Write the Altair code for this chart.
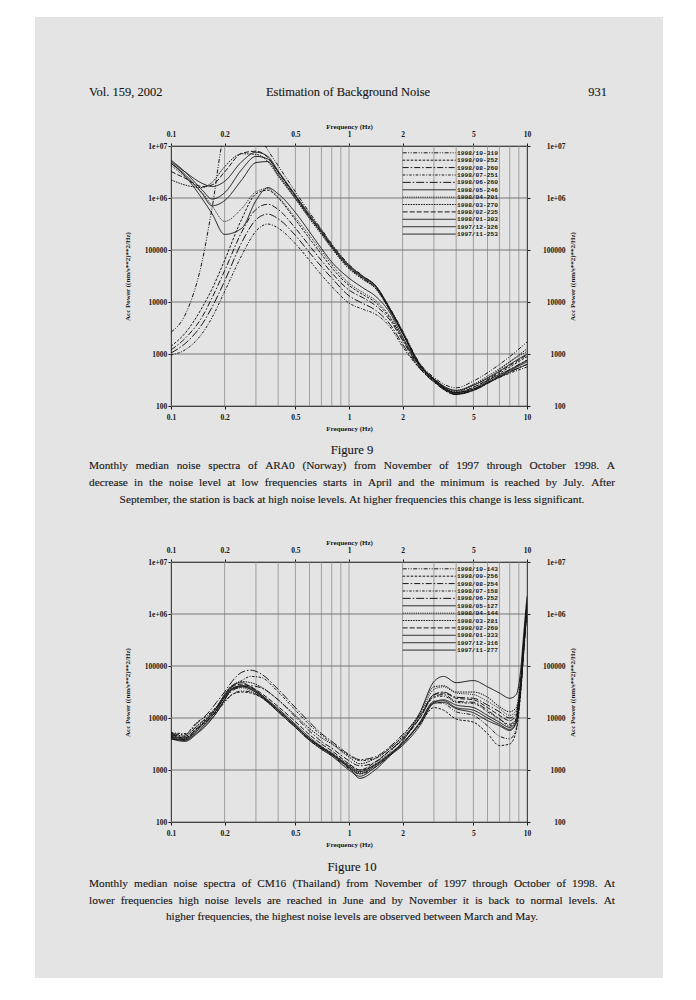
import altair as alt
import pandas as pd

# ---------------- page text ----------------
HEADER_LEFT = "Vol. 159, 2002"
HEADER_MID = "Estimation of Background Noise"
HEADER_RIGHT = "931"
FIG9_TITLE = "Figure 9"
FIG9_CAPTION = [
    "Monthly median noise spectra of ARA0 (Norway) from November of 1997 through October 1998. A",
    "decrease in the noise level at low frequencies starts in April and the minimum is reached by July. After",
    "September, the station is back at high noise levels. At higher frequencies this change is less significant.",
]
FIG10_TITLE = "Figure 10"
FIG10_CAPTION = [
    "Monthly median noise spectra of CM16 (Thailand) from November of 1997 through October of 1998. At",
    "lower frequencies high noise levels are reached in June and by November it is back to normal levels. At",
    "higher frequencies, the highest noise levels are observed between March and May.",
]
X_TITLE = "Frequency (Hz)"
Y_TITLE = "Acc Power ((nm/s**2)**2/Hz)"
X_TICKS = [0.1, 0.2, 0.5, 1, 2, 5, 10]
X_GRID = [0.1, 0.2, 0.3, 0.4, 0.5, 0.6, 0.7, 0.8, 0.9, 1, 2, 3, 4, 5, 6, 7, 8, 9, 10]
Y_TICKS = [100, 1000, 10000, 100000, 1000000, 10000000]

# ---------------- Figure 9 : ARA0 (log10 of power) ----------------
freq9 = [0.1, 0.12, 0.15, 0.17, 0.2, 0.25, 0.3, 0.35, 0.4, 0.5, 0.6, 0.7, 0.8,
         1.0, 1.2, 1.4, 1.7, 2.0, 2.5, 3.0, 4.0, 5.0, 6.5, 8.0, 10.0]
labels9 = ["1998/10-319", "1998/09-252", "1998/08-260", "1998/07-251", "1998/06-260",
           "1998/05-246", "1998/04-201", "1998/03-270", "1998/02-235", "1998/01-303",
           "1997/12-326", "1997/11-253"]
ara_oct = [3.42, 3.75, 4.8, 5.8, 7.2, 7.45, 7.3, 6.92, 6.62, 6.12, 5.72, 5.4, 5.12, 4.72, 4.5, 4.32, 3.88, 3.45, 2.82, 2.55, 2.35, 2.48, 2.72, 2.95, 3.23]
ara_sep = [3.15, 3.4, 3.9, 4.25, 4.8, 5.6, 6.08, 6.15, 6.0, 5.58, 5.22, 4.92, 4.66, 4.32, 4.14, 4.0, 3.69, 3.29, 2.75, 2.48, 2.26, 2.36, 2.56, 2.75, 2.95]
ara_aug = [3.08, 3.3, 3.72, 4.08, 4.6, 5.35, 5.78, 5.88, 5.78, 5.42, 5.08, 4.8, 4.56, 4.23, 4.08, 3.94, 3.65, 3.26, 2.73, 2.47, 2.22, 2.32, 2.52, 2.7, 2.88]
ara_jul = [2.98, 3.08, 3.4, 3.7, 4.2, 4.9, 5.36, 5.5, 5.42, 5.12, 4.8, 4.52, 4.3, 3.98, 3.86, 3.77, 3.52, 3.14, 2.72, 2.47, 2.25, 2.33, 2.5, 2.63, 2.75]
ara_jun = [3.02, 3.2, 3.58, 3.9, 4.4, 5.15, 5.58, 5.69, 5.6, 5.28, 4.95, 4.68, 4.46, 4.12, 3.97, 3.85, 3.57, 3.19, 2.72, 2.46, 2.22, 2.3, 2.5, 2.66, 2.8]
ara_may = [6.67, 6.42, 5.98, 5.7, 5.3, 5.42, 5.95, 6.2, 6.08, 5.72, 5.35, 5.03, 4.77, 4.46, 4.27, 4.12, 3.79, 3.33, 2.78, 2.52, 2.3, 2.4, 2.6, 2.8, 3.0]
ara_apr = [6.63, 6.4, 6.1, 5.85, 5.55, 5.8, 6.12, 6.18, 6.02, 5.62, 5.28, 4.98, 4.72, 4.36, 4.18, 4.04, 3.72, 3.3, 2.76, 2.5, 2.3, 2.42, 2.65, 2.85, 3.05]
ara_mar = [6.35, 6.25, 6.2, 6.3, 6.6, 6.85, 6.84, 6.7, 6.42, 5.98, 5.6, 5.3, 5.03, 4.64, 4.43, 4.27, 3.83, 3.4, 2.8, 2.52, 2.28, 2.4, 2.62, 2.85, 3.1]
ara_feb = [6.51, 6.38, 6.22, 6.25, 6.5, 6.86, 6.9, 6.78, 6.5, 6.03, 5.64, 5.34, 5.06, 4.66, 4.45, 4.28, 3.84, 3.4, 2.78, 2.5, 2.26, 2.36, 2.58, 2.78, 2.98]
ara_jan = [6.70, 6.5, 6.28, 6.22, 6.32, 6.7, 6.88, 6.8, 6.52, 6.06, 5.68, 5.38, 5.1, 4.71, 4.49, 4.33, 3.87, 3.43, 2.8, 2.5, 2.23, 2.31, 2.52, 2.68, 2.85]
ara_dec = [6.73, 6.5, 6.15, 5.98, 6.1, 6.55, 6.8, 6.75, 6.5, 6.04, 5.66, 5.36, 5.08, 4.69, 4.48, 4.32, 3.86, 3.41, 2.8, 2.52, 2.26, 2.33, 2.55, 2.7, 2.88]
ara_nov = [6.67, 6.45, 6.08, 5.85, 5.95, 6.35, 6.68, 6.7, 6.45, 6.0, 5.63, 5.33, 5.06, 4.67, 4.46, 4.3, 3.85, 3.4, 2.78, 2.5, 2.24, 2.3, 2.5, 2.65, 2.8]
curves9 = [ara_oct, ara_sep, ara_aug, ara_jul, ara_jun, ara_may,
           ara_apr, ara_mar, ara_feb, ara_jan, ara_dec, ara_nov]

# ---------------- Figure 10 : CM16 (log10 of power) ----------------
freq10 = [0.1, 0.12, 0.14, 0.16, 0.18, 0.2, 0.22, 0.25, 0.28, 0.32, 0.4, 0.5, 0.6, 0.7, 0.8,
          1.0, 1.15, 1.4, 1.7, 2.0, 2.5, 3.0, 3.4, 4.0, 5.0, 6.0, 7.0, 8.0, 8.7, 9.2, 9.6, 10.0]
labels10 = ["1998/10-143", "1998/09-256", "1998/08-254", "1998/07-158", "1998/06-252",
            "1998/05-127", "1998/04-144", "1998/03-281", "1998/02-269", "1998/01-333",
            "1997/12-316", "1997/11-277"]
cm_oct = [3.63, 3.58, 3.78, 3.95, 4.12, 4.3, 4.45, 4.52, 4.5, 4.4, 4.12, 3.82, 3.57, 3.4, 3.28, 3.03, 2.92, 3.05, 3.28, 3.5, 3.9, 4.3, 4.28, 4.12, 4.05, 3.85, 3.65, 3.6, 3.8, 4.5, 5.35, 6.1]
cm_sep = [3.66, 3.62, 3.8, 3.98, 4.15, 4.32, 4.45, 4.5, 4.48, 4.4, 4.15, 3.85, 3.6, 3.45, 3.33, 3.1, 3.0, 3.1, 3.3, 3.52, 3.88, 4.2, 4.15, 3.98, 3.92, 3.7, 3.47, 3.5, 3.75, 4.45, 5.3, 6.1]
cm_aug = [3.68, 3.65, 3.85, 4.02, 4.2, 4.38, 4.52, 4.6, 4.62, 4.58, 4.35, 4.02, 3.75, 3.55, 3.42, 3.18, 3.08, 3.15, 3.38, 3.6, 4.0, 4.42, 4.45, 4.32, 4.3, 4.15, 3.98, 3.88, 4.0, 4.6, 5.4, 6.15]
cm_jul = [3.72, 3.7, 3.92, 4.05, 4.22, 4.42, 4.6, 4.72, 4.8, 4.78, 4.5, 4.15, 3.87, 3.67, 3.52, 3.28, 3.18, 3.22, 3.42, 3.63, 4.0, 4.4, 4.42, 4.3, 4.28, 4.12, 3.98, 3.85, 3.98, 4.6, 5.4, 6.2]
cm_jun = [3.7, 3.68, 3.9, 4.08, 4.3, 4.5, 4.7, 4.88, 4.92, 4.85, 4.55, 4.2, 3.92, 3.7, 3.55, 3.3, 3.2, 3.25, 3.45, 3.68, 4.05, 4.45, 4.5, 4.4, 4.38, 4.25, 4.12, 4.0, 4.1, 4.65, 5.45, 6.2]
cm_may = [3.6, 3.55, 3.7, 3.88, 4.1, 4.35, 4.55, 4.62, 4.58, 4.45, 4.15, 3.85, 3.6, 3.43, 3.3, 3.05, 2.84, 3.0, 3.28, 3.55, 4.1, 4.7, 4.8, 4.68, 4.72, 4.6, 4.48, 4.38, 4.45, 4.9, 5.65, 6.34]
cm_apr = [3.65, 3.6, 3.82, 3.98, 4.18, 4.4, 4.55, 4.58, 4.52, 4.4, 4.12, 3.82, 3.58, 3.42, 3.3, 3.06, 2.95, 3.12, 3.35, 3.6, 4.05, 4.55, 4.6, 4.48, 4.45, 4.32, 4.18, 4.05, 4.15, 4.7, 5.45, 6.2]
cm_mar = [3.7, 3.65, 3.85, 4.0, 4.2, 4.45, 4.62, 4.7, 4.68, 4.6, 4.35, 4.05, 3.8, 3.62, 3.5, 3.25, 3.12, 3.22, 3.42, 3.65, 4.1, 4.6, 4.62, 4.5, 4.5, 4.4, 4.22, 4.12, 4.2, 4.75, 5.5, 6.25]
cm_feb = [3.68, 3.62, 3.8, 3.95, 4.15, 4.42, 4.6, 4.65, 4.6, 4.48, 4.22, 3.93, 3.68, 3.5, 3.37, 3.12, 3.0, 3.15, 3.38, 3.58, 4.0, 4.45, 4.48, 4.38, 4.35, 4.2, 4.05, 3.95, 4.05, 4.65, 5.45, 6.2]
cm_jan = [3.6, 3.57, 3.72, 3.9, 4.1, 4.35, 4.55, 4.6, 4.55, 4.42, 4.12, 3.82, 3.57, 3.4, 3.27, 3.0, 2.88, 3.05, 3.28, 3.47, 3.85, 4.28, 4.3, 4.18, 4.1, 3.95, 3.85, 3.76, 3.9, 4.5, 5.3, 6.1]
cm_dec = [3.65, 3.6, 3.78, 3.98, 4.2, 4.45, 4.62, 4.68, 4.6, 4.45, 4.18, 3.88, 3.63, 3.45, 3.32, 3.08, 2.97, 3.1, 3.32, 3.52, 3.92, 4.32, 4.33, 4.2, 4.15, 4.0, 3.88, 3.78, 3.92, 4.55, 5.35, 6.15]
cm_nov = [3.62, 3.58, 3.75, 3.93, 4.15, 4.4, 4.57, 4.62, 4.56, 4.43, 4.15, 3.85, 3.6, 3.43, 3.3, 3.05, 2.93, 3.08, 3.3, 3.5, 3.9, 4.3, 4.35, 4.25, 4.2, 4.05, 3.92, 3.82, 3.95, 4.6, 5.4, 6.2]
curves10 = [cm_oct, cm_sep, cm_aug, cm_jul, cm_jun, cm_may,
            cm_apr, cm_mar, cm_feb, cm_jan, cm_dec, cm_nov]

# ---------------- styles ----------------
INK = "#161616"
GRID_V = "#8e8e8e"
GRID_H = "#777777"
PAGE = "#e4e4e4"
SERIF = "Liberation Serif"
MONO = "Liberation Mono"
DASHES = [[4, 1.5, 1, 1.5, 1, 1.5], [2.5, 1.5], [6, 2, 1.5, 2], [2.5, 1.5, 1, 1.5],
          [8, 2, 1.5, 2], [1, 0], [1, 1.2], [1.6, 1], [5, 2], [1, 0], [1, 0], [1, 0]]
WIDTHS = [1.0, 1.0, 1.0, 1.0, 1.0, 0.8, 1.0, 0.9, 1.0, 1.1, 1.5, 1.9]
CAP_SIZE = 11.3
FIG_SIZE = 12.7

PW, PH = 356, 260
XS = alt.Scale(type="log", domain=[0.1, 10], nice=False)
YS = alt.Scale(type="log", domain=[100, 10000000], nice=False)
Y_LABEL_EXPR = "datum.value >= 1000000 ? '1e+0' + round(log(datum.value) / LN10) : format(datum.value, 'd')"

AX = dict(grid=False, domainColor=INK, domainWidth=1, tickColor=INK, tickWidth=1, tickSize=3,
          labelFont=SERIF, labelFontSize=7.5, labelFontWeight="bold", labelColor=INK,
          titleFont=SERIF, titleFontSize=7, titleFontWeight="bold", titleColor=INK,
          labelOverlap=False, labelFlush=False)

ax_bottom = alt.Axis(orient="bottom", values=X_TICKS, format="~g", labelPadding=4, title=X_TITLE,
                     titleX=PW / 2, titleY=22, titleAlign="center", titleBaseline="middle", **AX)
ax_top = alt.Axis(orient="top", values=X_TICKS, format="~g", labelPadding=4.5, title=X_TITLE,
                  titleX=PW / 2, titleY=-20, titleAlign="center", titleBaseline="middle", **AX)
ax_left = alt.Axis(orient="left", values=Y_TICKS, labelExpr=Y_LABEL_EXPR, labelPadding=1.3, title=Y_TITLE,
                   titleAngle=270, titleX=-43.5, titleY=PH / 2, titleAlign="center", titleBaseline="middle", **AX)
ax_right = alt.Axis(orient="right", values=Y_TICKS, labelExpr=Y_LABEL_EXPR, labelAlign="right", labelPadding=35,
                    title=Y_TITLE, titleAngle=270, titleX=45, titleY=PH / 2, titleAlign="center",
                    titleBaseline="middle", **AX)

# Times / Liberation Serif advance widths (per 1000 em), used to justify caption lines
_W = {" ": 250, "(": 333, ")": 333, ",": 250, "-": 333, ".": 250, "/": 278}
_W.update({d: 500 for d in "0123456789"})
_W.update(dict(zip("ABCDEFGHIJKLMNOPQRSTUVWXYZ",
                   [722, 667, 667, 722, 611, 556, 722, 722, 333, 389, 722, 611, 889,
                    722, 722, 556, 722, 667, 556, 611, 722, 722, 944, 722, 722, 611])))
_W.update(dict(zip("abcdefghijklmnopqrstuvwxyz",
                   [444, 500, 444, 500, 444, 333, 500, 500, 278, 278, 500, 278, 778,
                    500, 500, 500, 500, 333, 389, 278, 500, 500, 722, 500, 500, 444])))


def text_width(s, size):
    return size * sum(_W.get(c, 500) for c in s) / 1000.0


def text_layer(s, x, y, align="center", size=12.4):
    return alt.Chart(pd.DataFrame({"t": [s]})).mark_text(
        align=align, baseline="middle", font=SERIF, fontSize=size, color=INK,
        stroke=INK, strokeWidth=0.12
    ).encode(x=alt.value(x), y=alt.value(y), text="t:N")


def justified(line, x0, x1, y, size):
    words = line.split(" ")
    widths = [text_width(w, size) for w in words]
    gap = (x1 - x0 - sum(widths)) / (len(words) - 1)
    out, x = [], x0
    for w, wd in zip(words, widths):
        out.append(text_layer(w, round(x, 2), y, align="left", size=size))
        x += wd + gap
    return out


def rect_layer(x1, x2, y1, y2):
    return alt.Chart(pd.DataFrame({"r": [0]})).mark_rect(color="white").encode(
        x=alt.value(x1), x2=alt.value(x2), y=alt.value(y1), y2=alt.value(y2))


def panel(freqs, labels, curves, extra):
    rows = []
    for lab, vals in zip(labels, curves):
        assert len(vals) == len(freqs)
        for f, v in zip(freqs, vals):
            rows.append({"series": lab, "f": f, "p": 10 ** v})
    df = pd.DataFrame(rows)
    dash = alt.StrokeDash("series:N", scale=alt.Scale(domain=labels, range=DASHES), legend=None)
    width = alt.StrokeWidth("series:N", scale=alt.Scale(domain=labels, range=WIDTHS), legend=None)

    vgrid = alt.Chart(pd.DataFrame({"g": X_GRID})).mark_rule(color=GRID_V, strokeWidth=0.8).encode(
        x=alt.X("g:Q", scale=XS, axis=None))
    hgrid = alt.Chart(pd.DataFrame({"g": Y_TICKS})).mark_rule(color=GRID_H, strokeWidth=1).encode(
        y=alt.Y("g:Q", scale=YS, axis=None))
    lines = alt.Chart(df).mark_line(clip=True, interpolate="monotone", color=INK).encode(
        x=alt.X("f:Q", scale=XS, axis=ax_bottom),
        y=alt.Y("p:Q", scale=YS, axis=ax_left),
        strokeDash=dash, strokeWidth=width, detail="series:N")
    axes2 = alt.Chart(df).mark_point(opacity=0, clip=True).encode(
        x=alt.X("f:Q", scale=XS, axis=ax_top),
        y=alt.Y("p:Q", scale=YS, axis=ax_right))
    leg_df = pd.DataFrame({
        "series": labels,
        "ly": [10 ** (7 - (6.8 + 7.39 * i) / 52.0) for i in range(len(labels))],
    })
    leg_lines = alt.Chart(leg_df).mark_rule(color=INK).encode(
        x=alt.value(231.7), x2=alt.value(284.7),
        y=alt.Y("ly:Q", scale=YS, axis=None), strokeDash=dash, strokeWidth=width)
    leg_text = alt.Chart(leg_df).mark_text(
        align="left", baseline="middle", font=MONO, fontSize=6.2, fontWeight="bold", color=INK
    ).encode(x=alt.value(286), y=alt.Y("ly:Q", scale=YS, axis=None), text="series:N")

    return alt.layer(vgrid, hgrid, lines, axes2, leg_lines, leg_text, *extra).resolve_axis(
        x="independent", y="independent").properties(width=PW, height=PH)


# panel 1 origin on the page: (171, 146); panel 2 origin: (171, 562)
JL, JR, CX = -82, 444, 181
extra1 = [
    rect_layer(-163, 517, -138, -129),
    rect_layer(-163, 517, 832, 846),
    rect_layer(-163, -136, -138, 846),
    rect_layer(492, 517, -138, 846),
    text_layer(HEADER_LEFT, -82, -54, align="left", size=12.5),
    text_layer(HEADER_MID, 177, -54, size=12.5),
    text_layer(HEADER_RIGHT, 436, -54, align="right", size=12.5),
    text_layer(FIG9_TITLE, CX, 304, size=FIG_SIZE),
    *justified(FIG9_CAPTION[0], JL, JR, 320, CAP_SIZE),
    *justified(FIG9_CAPTION[1], JL, JR, 337, CAP_SIZE),
    text_layer(FIG9_CAPTION[2], CX, 354, size=CAP_SIZE),
]
extra2 = [
    text_layer(FIG10_TITLE, CX, 305, size=FIG_SIZE),
    *justified(FIG10_CAPTION[0], JL, JR, 322, CAP_SIZE),
    *justified(FIG10_CAPTION[1], JL, JR, 338.5, CAP_SIZE),
    text_layer(FIG10_CAPTION[2], CX, 355, size=CAP_SIZE),
]

p1 = panel(freq9, labels9, curves9, extra1)
p2 = panel(freq10, labels10, curves10, extra2)

chart = alt.vconcat(p1, p2, spacing=156, bounds="flush").properties(padding=0).configure(
    background=PAGE, font=SERIF).configure_view(stroke=None)

chart.save("out.html", embed_options={"renderer": "svg", "actions": False})
